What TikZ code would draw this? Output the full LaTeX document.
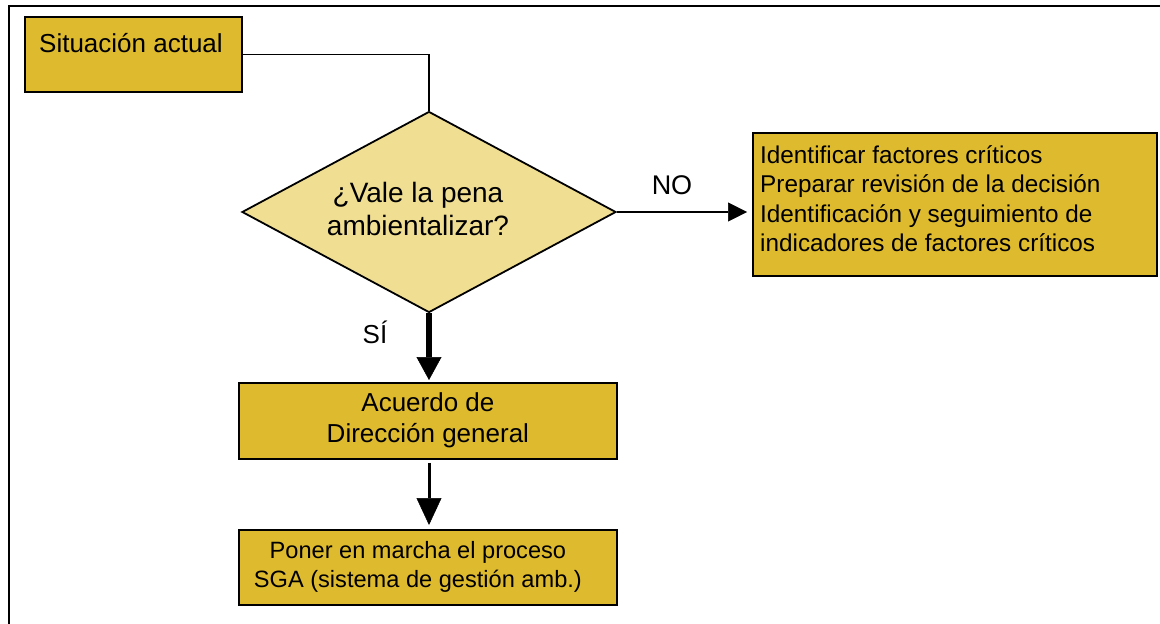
\documentclass[tikz,border=0pt]{standalone}
\usepackage{fontspec}
\setmainfont{Liberation Sans}
\usetikzlibrary{arrows.meta,shapes.geometric}
\definecolor{gold}{RGB}{222,186,46}
\definecolor{pale}{RGB}{240,222,146}
\begin{document}
\begin{tikzpicture}[x=1pt,y=-1pt,
  goldbox/.style={draw=black, line width=1.8pt, fill=gold, inner sep=0pt},
  txt/.style={inner sep=0pt, text=black},
  conn/.style={draw=black, line width=1.8pt},
  tipa/.style={-{Triangle[length=#1,width=25pt,line width=0.5pt]}},
]
\useasboundingbox (0,0) rectangle (1160,624);
% frame
\draw[line width=2.5pt] (1160,6) -- (9,6) -- (9,624);

% boxes
\node[goldbox, anchor=north west, minimum width=217pt, minimum height=75pt] (sit) at (24,16) {};
\node[txt, anchor=base west, font=\fontsize{26}{31}\selectfont] (sitt) at (39,52) {Situación actual};

\node[draw=black, line width=1.8pt, fill=pale, shape=diamond, aspect=1.86,
      minimum width=374pt, minimum height=201pt, inner sep=0pt,
      font=\fontsize{28}{33}\selectfont] (dec) at (429,212)
      {\begin{tabular}{@{}c@{}}¿Vale la pena\\ambientalizar?\end{tabular}\hspace*{22pt}};

\node[goldbox, anchor=north west, minimum width=404pt, minimum height=143pt] (crit) at (752,132) {};
\node[txt, anchor=base west, font=\fontsize{24.3}{29.5}\selectfont] (critt) at (760,163)
  {\begin{tabular}[t]{@{}l@{}}Identificar factores críticos\\Preparar revisión de la decisión\\Identificación y seguimiento de\\indicadores de factores críticos\end{tabular}};

\node[goldbox, anchor=north west, minimum width=378pt, minimum height=76pt,
      font=\fontsize{26}{31}\selectfont] (acu) at (238,382)
  {\begin{tabular}{@{}c@{}}Acuerdo de\\Dirección general\end{tabular}};

\node[goldbox, anchor=north west, minimum width=378pt, minimum height=75pt,
      font=\fontsize{23.6}{29}\selectfont] (bot) at (238,529)
  {\begin{tabular}{@{}c@{}}Poner en marcha el proceso\\SGA (sistema de gestión amb.)\end{tabular}\hspace*{20pt}};

% labels
\node[txt, font=\fontsize{27}{32}\selectfont] (no) at (672,185) {NO};
\node[txt, font=\fontsize{26}{31}\selectfont] (si) at (375,332) {SÍ};

% connectors
\draw[conn] (sit.east) -| (dec.north);
\draw[conn, line width=2pt, -{Triangle[length=19pt,width=19pt,line width=0.5pt]}, shorten >=5pt]
  (dec.east) -- (dec.east -| crit.west);
\draw[conn, line width=6.5pt, tipa=23pt, shorten >=2pt]
  (dec.south) -- (dec.south |- acu.north);
\draw[conn, line width=3pt, tipa=27pt, shorten <=3pt, shorten >=4pt]
  (dec.south |- acu.south) -- (dec.south |- bot.north);
\end{tikzpicture}
\end{document}
